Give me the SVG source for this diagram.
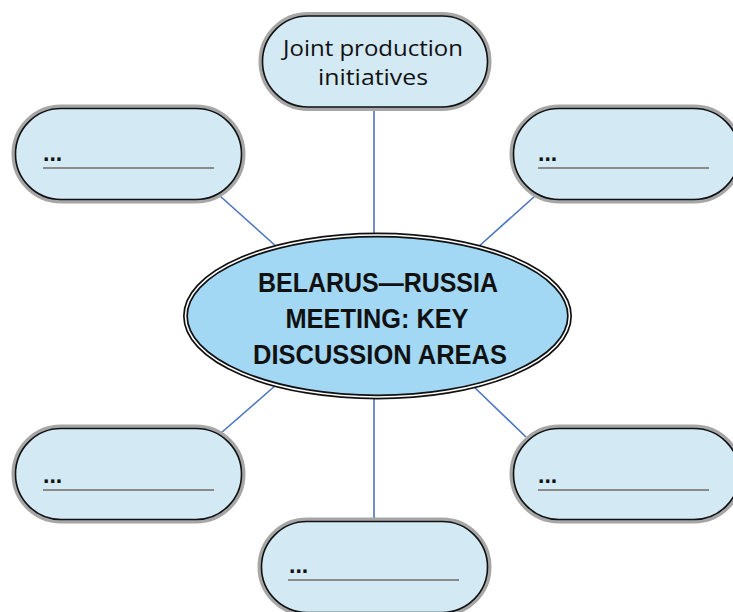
<svg xmlns="http://www.w3.org/2000/svg" width="733" height="612" viewBox="0 0 733 612">
<style>
.pill-o{fill:#d3e9f4;stroke:#a6a6a6;stroke-width:4}
.pill-i{fill:none;stroke:#111;stroke-width:1.6}
.dots{font-family:"Liberation Sans",Arial,sans-serif;font-weight:bold;font-size:23px;fill:#111}
.uline{stroke:#8a8a8a;stroke-width:2}
.conn{stroke:#4a74c0;stroke-width:1.6;fill:none}
.title{font-family:"Liberation Sans",Arial,sans-serif;font-weight:bold;font-size:27px;fill:#111;text-anchor:middle}
.lbl{font-family:"Open Sans","Liberation Sans",sans-serif;font-size:21px;fill:#111;text-anchor:middle}
</style>
<rect width="733" height="612" fill="#ffffff"/>
<g id="connectors">
<line class="conn" x1="374" y1="110" x2="374" y2="240"/>
<line class="conn" x1="220" y1="196" x2="278" y2="248"/>
<line class="conn" x1="535" y1="196" x2="477" y2="248"/>
<line class="conn" x1="276" y1="385" x2="221" y2="433"/>
<line class="conn" x1="472" y1="385" x2="526" y2="437"/>
<line class="conn" x1="374" y1="392" x2="374" y2="519"/>
</g>
<g id="center">
<ellipse cx="377.5" cy="316" rx="192" ry="81" fill="#a2d8f4" stroke="#111" stroke-width="5"/>
<ellipse cx="377.5" cy="316" rx="192" ry="81" fill="none" stroke="#ffffff" stroke-width="1.6"/>
<text class="title" x="378" y="292" textLength="240" lengthAdjust="spacingAndGlyphs">BELARUS—RUSSIA</text>
<text class="title" x="377" y="328" textLength="183" lengthAdjust="spacingAndGlyphs">MEETING: KEY</text>
<text class="title" x="380" y="364" textLength="254" lengthAdjust="spacingAndGlyphs">DISCUSSION AREAS</text>
</g>
<g id="node-top">
<rect class="pill-o" x="260.5" y="14" width="229" height="95" rx="47.5"/>
<rect class="pill-i" x="262.5" y="16" width="225" height="91" rx="45.5"/>
<text class="lbl" x="373" y="56" textLength="180" lengthAdjust="spacingAndGlyphs">Joint production</text>
<text class="lbl" x="373" y="85" textLength="110" lengthAdjust="spacingAndGlyphs">initiatives</text>
</g>
<g id="node-top-left">
<rect class="pill-o" x="13.5" y="106.5" width="230" height="95" rx="47.5"/>
<rect class="pill-i" x="15.5" y="108.5" width="226" height="91" rx="45.5"/>
<text class="dots" x="43" y="161">...</text>
<line class="uline" x1="43" y1="168" x2="214" y2="168"/>
</g>
<g id="node-top-right">
<rect class="pill-o" x="511.5" y="106.5" width="230" height="95" rx="47.5"/>
<rect class="pill-i" x="513.5" y="108.5" width="226" height="91" rx="45.5"/>
<text class="dots" x="538" y="161">...</text>
<line class="uline" x1="538" y1="168" x2="709" y2="168"/>
</g>
<g id="node-bottom-left">
<rect class="pill-o" x="13.5" y="426.5" width="230" height="95" rx="47.5"/>
<rect class="pill-i" x="15.5" y="428.5" width="226" height="91" rx="45.5"/>
<text class="dots" x="43" y="483">...</text>
<line class="uline" x1="43" y1="490" x2="214" y2="490"/>
</g>
<g id="node-bottom-right">
<rect class="pill-o" x="511.5" y="426.5" width="230" height="95" rx="47.5"/>
<rect class="pill-i" x="513.5" y="428.5" width="226" height="91" rx="45.5"/>
<text class="dots" x="538" y="483">...</text>
<line class="uline" x1="538" y1="490" x2="709" y2="490"/>
</g>
<g id="node-bottom">
<rect class="pill-o" x="259.5" y="519.5" width="230" height="95" rx="47.5"/>
<rect class="pill-i" x="261.5" y="521.5" width="226" height="91" rx="45.5"/>
<text class="dots" x="289" y="573">...</text>
<line class="uline" x1="288" y1="580" x2="459" y2="580"/>
</g>
</svg>
